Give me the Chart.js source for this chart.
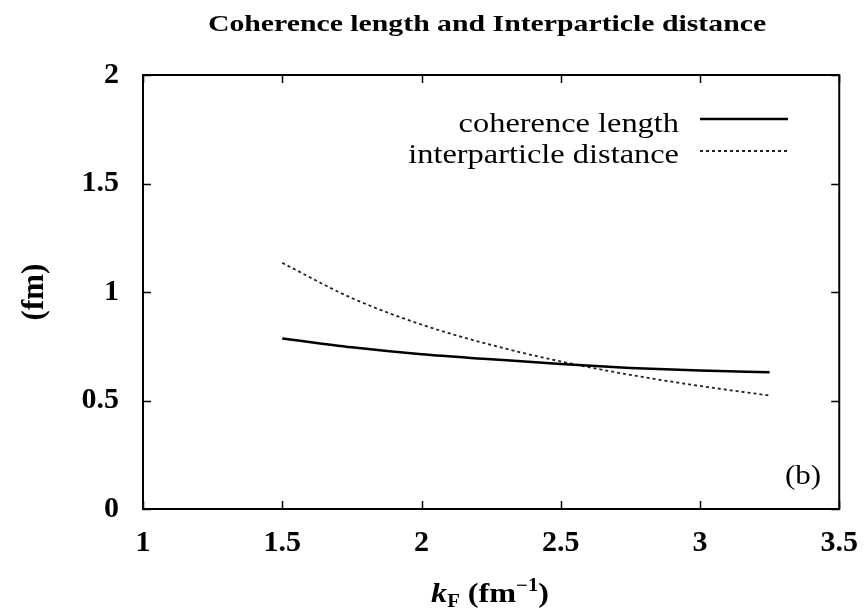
<!DOCTYPE html>
<html>
<head>
<meta charset="utf-8">
<script src="https://cdn.jsdelivr.net/npm/chart.js@4/dist/chart.umd.min.js"></script>
<style>
    body { margin: 0; background: #fff; }
    canvas { display: block; }
</style>
</head>
<body>
<canvas id="grafica" width="866" height="611"></canvas>
<script>
/* ==================
    DATOS
================== */

const kF = [1.5, 1.75, 2, 2.25, 2.5, 2.75, 3, 3.25];
const longitudCoherencia = [0.786, 0.745, 0.713, 0.69, 0.668, 0.65, 0.638, 0.63];
const distanciaInterparticula = [1.134, 0.972, 0.85, 0.756, 0.68, 0.618, 0.567, 0.523];

const ticksX = [1, 1.5, 2, 2.5, 3, 3.5];
const ticksY = [0, 0.5, 1, 1.5, 2];

const titulo = "Coherence length and Interparticle distance";
const etiquetas = ["coherence length", "interparticle distance"];

const SERIF = "'Liberation Serif', 'Times New Roman', serif";

function puntos(xs, ys) {
    return xs.map((x, i) => ({ x: x, y: ys[i] }));
}

// texto algo ensanchado, como en la figura original
function textoAncho(ctx, texto, x, y, escala) {
    ctx.save();
    ctx.translate(x, y);
    ctx.scale(escala, 1);
    ctx.fillText(texto, 0, 0);
    ctx.restore();
}

/* ==================
    DECORACION
================== */

const decoracion = {
    id: "decoracion",
    afterDraw(chart) {
        const ctx = chart.ctx;
        const area = chart.chartArea;
        const sx = chart.scales.x;
        const sy = chart.scales.y;

        ctx.save();
        ctx.strokeStyle = "#000";
        ctx.lineWidth = 2;
        ctx.strokeRect(area.left, area.top, area.right - area.left, area.bottom - area.top);

        // marcas hacia dentro, con espejo
        ctx.lineWidth = 1.5;
        const largo = 8;
        ticksX.forEach((v) => {
            const px = Math.round(sx.getPixelForValue(v)) + 0.5;
            ctx.beginPath();
            ctx.moveTo(px, area.bottom);
            ctx.lineTo(px, area.bottom - largo);
            ctx.moveTo(px, area.top);
            ctx.lineTo(px, area.top + largo);
            ctx.stroke();
        });
        ticksY.forEach((v) => {
            const py = Math.round(sy.getPixelForValue(v)) + 0.5;
            ctx.beginPath();
            ctx.moveTo(area.left, py);
            ctx.lineTo(area.left + largo, py);
            ctx.moveTo(area.right, py);
            ctx.lineTo(area.right - largo, py);
            ctx.stroke();
        });

        ctx.fillStyle = "#000";

        // titulo
        ctx.font = "bold 24px " + SERIF;
        ctx.textAlign = "center";
        ctx.textBaseline = "alphabetic";
        textoAncho(ctx, titulo, 487, 31, 1.24);

        // leyenda
        ctx.font = "27px " + SERIF;
        ctx.textAlign = "right";
        const filas = [119, 151];
        const bases = [132, 163];
        chart.data.datasets.forEach((ds, i) => {
            textoAncho(ctx, ds.label, 679, bases[i], 1.2);
            ctx.beginPath();
            ctx.strokeStyle = ds.borderColor;
            ctx.lineWidth = ds.borderWidth;
            ctx.setLineDash(ds.borderDash || []);
            ctx.moveTo(700, filas[i]);
            ctx.lineTo(788, filas[i]);
            ctx.stroke();
        });
        ctx.setLineDash([]);

        // (b)
        ctx.textAlign = "center";
        ctx.font = "27px " + SERIF;
        textoAncho(ctx, "(b)", 803, 484, 1.15);

        // eje y
        ctx.save();
        ctx.translate(35, 292);
        ctx.rotate(-Math.PI / 2);
        ctx.font = "bold 31px " + SERIF;
        ctx.textAlign = "center";
        ctx.textBaseline = "middle";
        ctx.fillText("(fm)", 0, 0);
        ctx.restore();

        // eje x: k_F (fm^-1)
        const base = 602;
        const escala = 1.15;
        const piezas = [
            { t: "k", f: "italic bold 28px " + SERIF, dy: 0 },
            { t: "F", f: "bold 18px " + SERIF, dy: 5 },
            { t: " (fm", f: "bold 28px " + SERIF, dy: 0 },
            { t: "\u22121", f: "bold 18px " + SERIF, dy: -11 },
            { t: ")", f: "bold 28px " + SERIF, dy: 0 },
        ];
        let ancho = 0;
        piezas.forEach((p) => {
            ctx.font = p.f;
            p.w = ctx.measureText(p.t).width * escala;
            ancho += p.w;
        });
        let x = 490 - ancho / 2;
        ctx.textAlign = "left";
        ctx.textBaseline = "alphabetic";
        piezas.forEach((p) => {
            ctx.font = p.f;
            textoAncho(ctx, p.t, x, base + p.dy, escala);
            x += p.w;
        });

        ctx.restore();
    },
};

/* ==================
    GRAFICA
================== */

function crearGrafica() {
    const canvas = document.getElementById("grafica");
    if (!canvas || typeof Chart === "undefined") {
        return;
    }

    new Chart(canvas.getContext("2d"), {
        type: "line",
        data: {
            datasets: [{
                label: etiquetas[0],
                data: puntos(kF, longitudCoherencia),
                borderColor: "#000",
                borderWidth: 2.5,
                pointRadius: 0,
                fill: false,
                cubicInterpolationMode: "monotone",
            }, {
                label: etiquetas[1],
                data: puntos(kF, distanciaInterparticula),
                borderColor: "#222",
                borderWidth: 1.8,
                borderDash: [3, 3],
                pointRadius: 0,
                fill: false,
                cubicInterpolationMode: "monotone",
            }],
        },
        options: {
            responsive: false,
            animation: false,
            layout: {
                padding: { left: 0, top: 75, right: 25, bottom: 0 },
            },
            plugins: {
                legend: { display: false },
                title: { display: false },
                tooltip: { enabled: false },
            },
            scales: {
                x: {
                    type: "linear",
                    min: 1,
                    max: 3.5,
                    grid: { display: false },
                    border: { display: false },
                    afterBuildTicks: (scale) => {
                        scale.ticks = ticksX.map((v) => ({ value: v }));
                    },
                    afterFit: (scale) => { scale.height = 102; },
                    ticks: {
                        padding: 8,
                        color: "#000",
                        maxRotation: 0,
                        callback: (v) => String(v),
                        font: { family: SERIF, size: 30, weight: "bold" },
                    },
                },
                y: {
                    type: "linear",
                    min: 0,
                    max: 2,
                    grid: { display: false },
                    border: { display: false },
                    afterBuildTicks: (scale) => {
                        scale.ticks = ticksY.map((v) => ({ value: v }));
                    },
                    afterFit: (scale) => { scale.width = 143; },
                    ticks: {
                        padding: 16,
                        color: "#000",
                        callback: (v) => String(v),
                        font: { family: SERIF, size: 30, weight: "bold" },
                    },
                },
            },
        },
        plugins: [decoracion],
    });
}

if (document.readyState === "loading") {
    document.addEventListener("DOMContentLoaded", crearGrafica);
} else {
    crearGrafica();
}
</script>
</body>
</html>
